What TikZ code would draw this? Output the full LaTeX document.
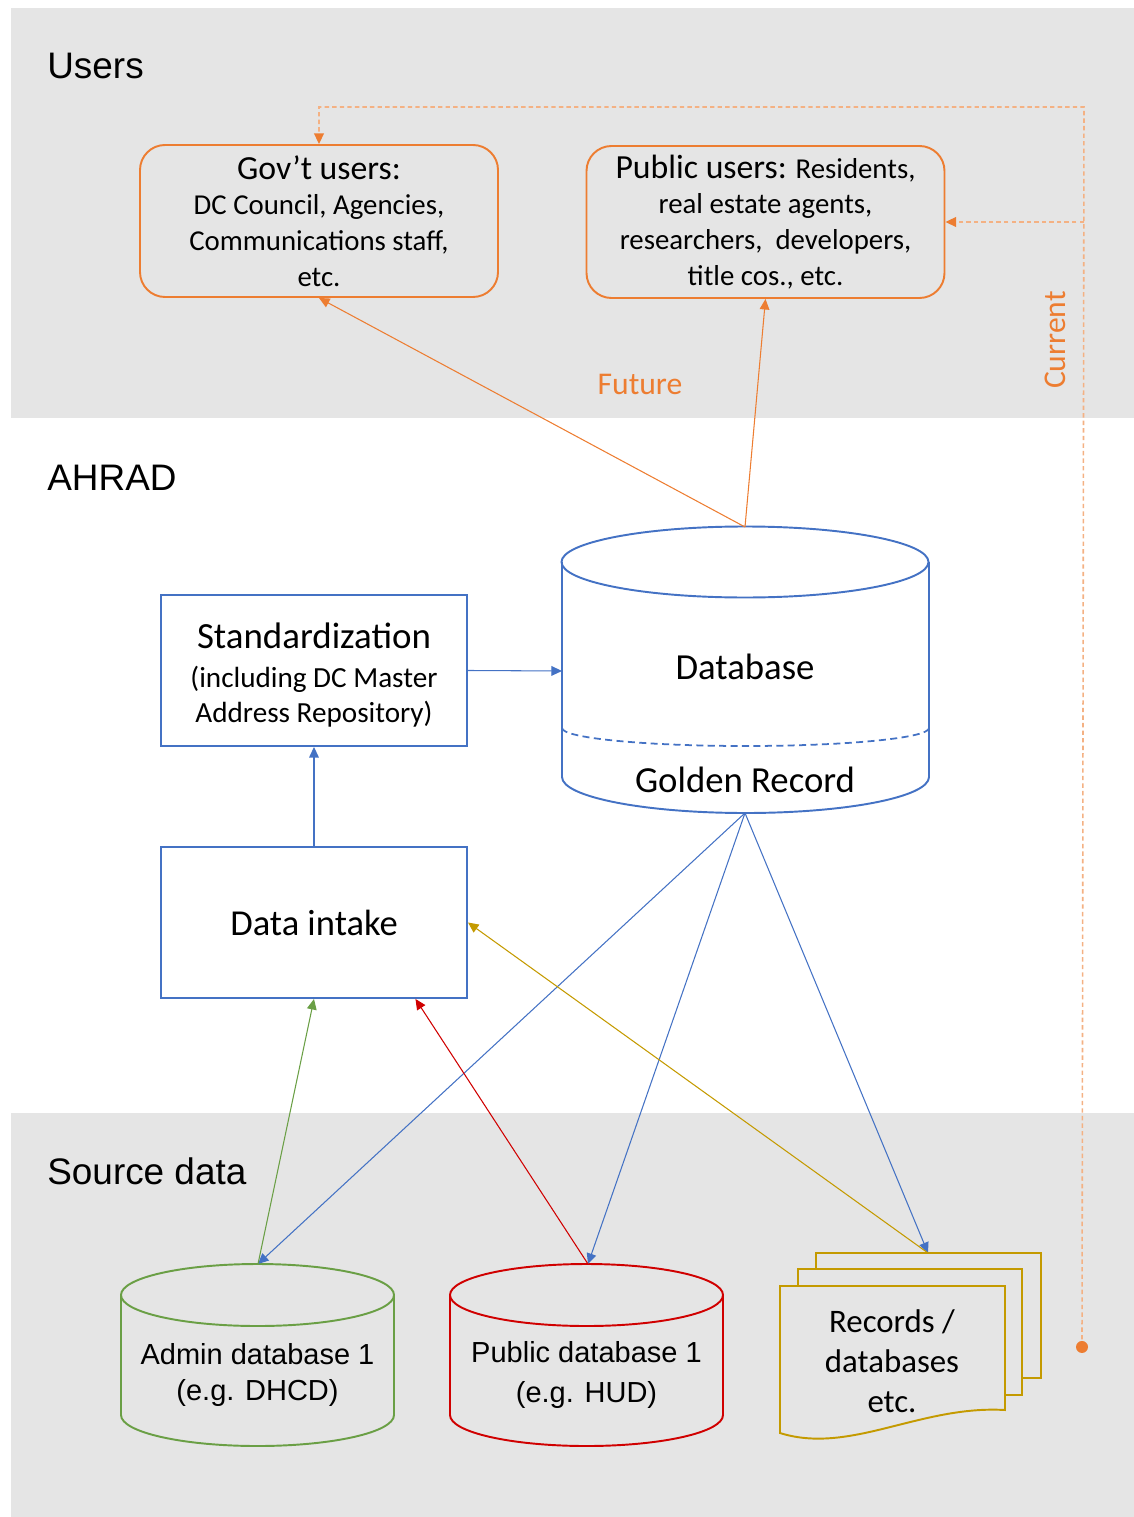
\documentclass[tikz,border=0pt]{standalone}
\usepackage{fontspec}
\setmainfont{Carlito}
\newfontfamily\arialfont{Liberation Sans}
\usetikzlibrary{arrows.meta}

\definecolor{ahorange}{HTML}{ED7D31}
\definecolor{ahpeach}{HTML}{F4B183}
\definecolor{ahblue}{HTML}{4472C4}
\definecolor{ahgreen}{HTML}{6A9F45}
\definecolor{ahred}{HTML}{D00000}
\definecolor{ahgold}{HTML}{C49A00}

\tikzset{
  heading/.style={anchor=base west, inner sep=0pt, font=\arialfont\fontsize{21}{25}\selectfont},
  userbox/.style={draw=ahorange, line width=1.1pt, rounded corners=0.5cm, minimum width=7.16cm,
    minimum height=3.04cm, align=center, inner sep=0pt, font=\fontsize{16.4}{20.4}\selectfont},
  procbox/.style={draw=ahblue, line width=1.1pt, fill=white, minimum width=6.12cm,
    minimum height=3.02cm, align=center, inner sep=0pt},
  shapeline/.style={line width=1.1pt},
  srctext/.style={align=center, font=\arialfont\fontsize{16.5}{20.4}\selectfont},
  link/.style={-{Triangle[length=6pt,width=5.5pt]}, line width=0.6pt},
  curline/.style={draw=ahpeach, line width=0.9pt, dash pattern=on 2.5pt off 1.8pt,
    -{Triangle[length=6pt,width=5.5pt,color=ahorange]}},
}

\begin{document}
\begin{tikzpicture}[x=1mm, y=1mm, scale=0.2, yscale=-1]
  \useasboundingbox (0,0) rectangle (1134,1517);
  % grey bands
  \fill[gray!20] (11,8) rectangle (1134,418);
  \fill[gray!20] (11,1113) rectangle (1134,1517);
  \node[heading] (users) at (47,79) {Users};
  \node[heading] (ahrad) at (47,490) {AHRAD};
  \node[heading] (source) at (47,1184) {Source data};

  % users
  \node[userbox] (gov) at (319,221) {{\fontsize{19.2}{20.4}\selectfont Gov’t users:}\\DC Council, Agencies,\\Communications staff,\\etc.};
  \node[userbox] (pub) at (765.5,222) {{\fontsize{19.2}{20.4}\selectfont Public users:} Residents,\\real estate agents,\\researchers,\ \ developers,\\title cos., etc.};

  % database
  \coordinate (dbtop) at (745,527);
  \coordinate (dbleft) at (562,671);
  \coordinate (dbbot) at (745,813);
  \draw[shapeline, ahblue] (562,562) -- (562,777) arc[start angle=180, end angle=0, x radius=183.5, y radius=36] -- (929,562);
  \draw[shapeline, ahblue] (745,562) ellipse [x radius=183.5, y radius=35.5];
  \draw[ahblue, line width=1pt, dash pattern=on 4pt off 2.5pt] (562,728) arc[start angle=180, end angle=0, x radius=183.5, y radius=18];
  \node[font=\fontsize{20.9}{25}\selectfont] (dbname) at (745,667) {Database};
  \node[font=\fontsize{20.9}{25}\selectfont] (golden) at (745,780) {Golden Record};

  \node[procbox, font=\fontsize{16.6}{19.8}\selectfont] (std) at (314,670.5) {{\fontsize{21}{22.7}\selectfont\rule{0pt}{20pt}Standardization}\\[2.3pt](including DC Master\\Address Repository)};
  \node[procbox, font=\fontsize{20.8}{25}\selectfont] (intake) at (314,922.5) {Data intake};

  % source data
  \draw[shapeline, ahgreen] (121,1295) -- (121,1415) arc[start angle=180, end angle=0, x radius=136.5, y radius=31] -- (394,1295);
  \draw[shapeline, ahgreen] (257.5,1295) ellipse [x radius=136.5, y radius=31];
  \node[srctext] (admin) at (257.5,1375) {Admin database 1\\(e.g. DHCD)};
  \coordinate (admtop) at (258,1264);

  \draw[shapeline, ahred] (450,1295) -- (450,1415) arc[start angle=180, end angle=0, x radius=136.5, y radius=31] -- (723,1295);
  \draw[shapeline, ahred] (586.5,1295) ellipse [x radius=136.5, y radius=31];
  \node[srctext, font=\arialfont\fontsize{16.5}{23}\selectfont] (public) at (586.5,1375) {Public database 1\\(e.g. HUD)};
  \coordinate (pubtop) at (588,1264);

  \filldraw[shapeline, ahgold, fill=gray!20] (816,1253) rectangle (1041,1378);
  \filldraw[shapeline, ahgold, fill=gray!20] (798,1269) rectangle (1022,1395);
  \filldraw[shapeline, ahgold, fill=gray!20] (780,1286) -- (1005,1286) -- (1005,1410)
    .. controls (920,1405) and (850,1455) .. (780,1433) -- cycle;
  \node[align=center, font=\fontsize{18.7}{22.7}\selectfont] (records) at (892,1361) {Records /\\databases\\etc.};
  \coordinate (rectop) at (928,1253);

  % connectors
  \draw[link, ahorange] (dbtop) -- (gov.south);
  \draw[link, ahorange] (dbtop) -- (pub.south);
  \draw[link, ahblue] (intake.north) -- (std.south);
  \draw[link, ahblue] (std.east) -- (dbleft);
  \draw[link, ahblue] (dbbot) -- (admtop);
  \draw[link, ahblue] (dbbot) -- (pubtop);
  \draw[link, ahblue] (dbbot) -- (rectop);
  \draw[link, ahgreen] (admtop) -- (intake.south);
  \draw[link, ahred] (pubtop) -- (intake.-37);
  \draw[link, ahgold] (rectop) -- (intake.east);

  % current feed
  \coordinate (curdot) at (1082,1347);
  \coordinate (curtop) at (1084,107);
  \draw[curline] (curdot) -- (curtop) -| (gov.north);
  \draw[curline] (curtop |- pub.east) -- (pub.east);
  \fill[ahorange] (curdot) circle (6);

  \node[ahorange, font=\fontsize{18}{20}\selectfont] (future) at (640,384) {Future};
  \node[ahorange, font=\fontsize{18}{20}\selectfont, rotate=90] (current) at (1055,340) {Current};
\end{tikzpicture}
\end{document}
